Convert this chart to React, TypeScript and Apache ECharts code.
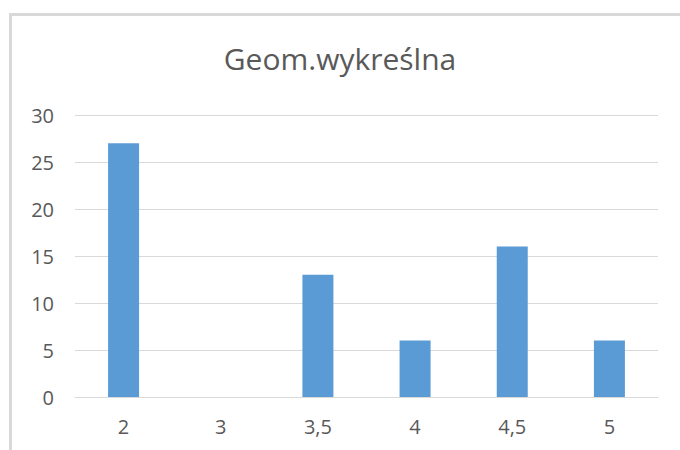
import React, { useEffect, useRef } from "react";
import * as echarts from "echarts";

const titleText = "Geom.wykreślna";
const categories = ["2", "3", "3,5", "4", "4,5", "5"];
const values = [27, 0, 13, 6, 16, 6];
const yMin = 0;
const yMax = 30;
const yStep = 5;

const FONT = "'Open Sans', 'Noto Sans', sans-serif";

export default function App() {
  const ref = useRef<HTMLDivElement>(null);

  useEffect(() => {
    if (!ref.current) return;
    const chart = echarts.init(ref.current, undefined, { renderer: "svg" });
    chart.setOption({
      animation: false,
      backgroundColor: "#ffffff",
      title: {
        text: titleText,
        left: "center",
        top: 43,
        padding: [0, 0, 0, 16],
        textStyle: {
          fontFamily: FONT,
          fontSize: 30,
          fontWeight: "normal",
          color: "#595959",
        },
      },
      graphic: [
        {
          type: "rect",
          shape: { x: 10.5, y: 14.5, width: 720, height: 500 },
          style: { fill: "none", stroke: "#d9d9d9", lineWidth: 3 },
          silent: true,
          z: 100,
        },
      ],
      grid: { left: 75, right: 22, top: 115, bottom: 53, containLabel: false },
      xAxis: {
        type: "category",
        data: categories,
        axisTick: { show: false },
        axisLine: { show: true, lineStyle: { color: "#d9d9d9", width: 1 } },
        axisLabel: {
          fontFamily: FONT,
          fontSize: 20,
          color: "#595959",
          margin: 19,
        },
      },
      yAxis: {
        type: "value",
        min: yMin,
        max: yMax,
        interval: yStep,
        axisLine: { show: false },
        axisTick: { show: false },
        splitLine: { show: true, lineStyle: { color: "#d9d9d9", width: 1 } },
        axisLabel: {
          fontFamily: FONT,
          fontSize: 20,
          color: "#595959",
          margin: 21,
        },
      },
      series: [
        {
          type: "bar",
          data: values,
          barWidth: 31,
          itemStyle: { color: "#5b9bd5" },
        },
      ],
    });
    return () => chart.dispose();
  }, []);

  return (
    <div
      ref={ref}
      style={{ position: "fixed", left: 0, top: 0, width: 680, height: 450 }}
    />
  );
}
